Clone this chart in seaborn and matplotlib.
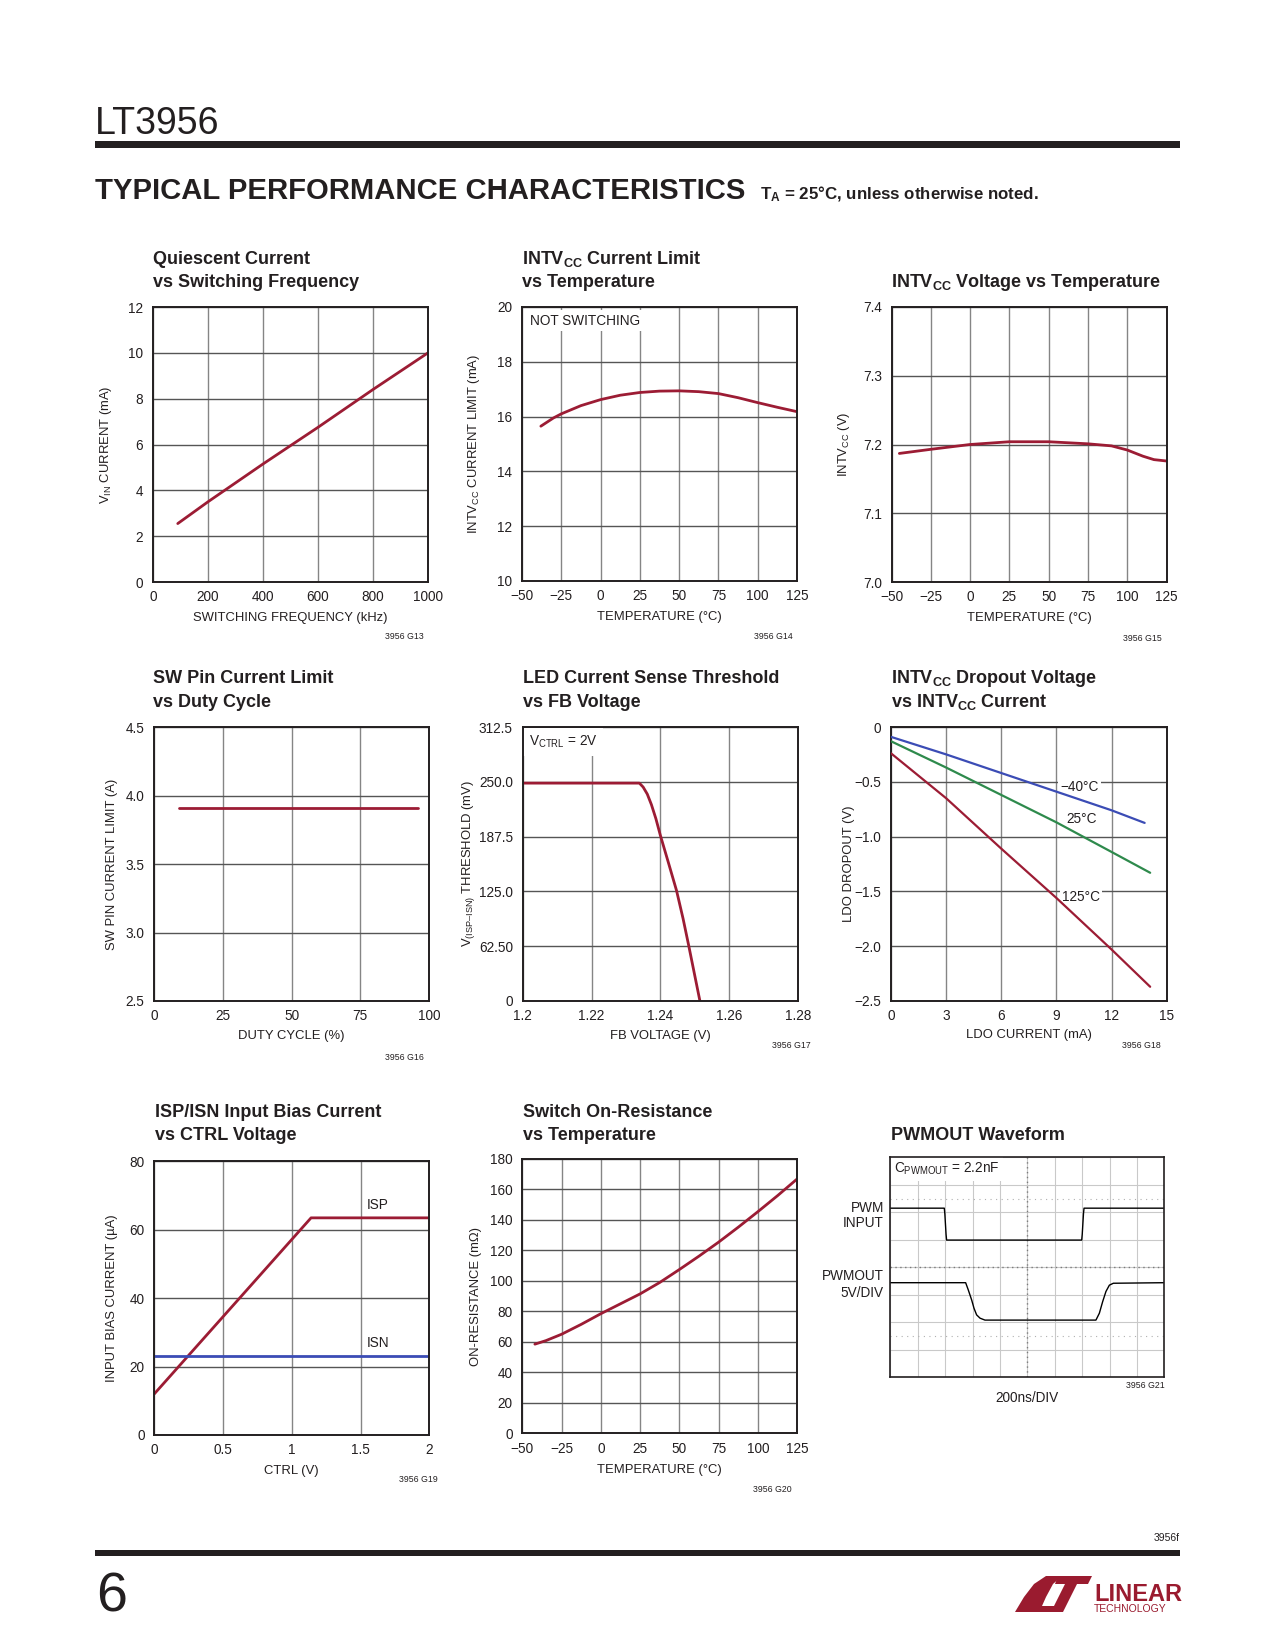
import matplotlib
matplotlib.use('Agg')
import matplotlib.pyplot as plt
import seaborn as sns
from matplotlib.patches import Polygon, Rectangle

# ---------------- data ----------------
qc_freq = [90, 200, 400, 600, 800, 1000]
qc_current = [2.55, 3.5, 5.15, 6.75, 8.4, 10.0]

ilim_temp = [-38, -30, -25, -12.5, 0, 12.5, 25, 37.5, 50, 62.5, 75, 87.5, 100, 112.5, 125]
ilim_current = [15.65, 15.95, 16.1, 16.4, 16.62, 16.78, 16.88, 16.93, 16.94, 16.91, 16.84,
                16.69, 16.51, 16.34, 16.18]

vcc_temp = [-45, -25, 0, 25, 50, 75, 90, 100, 110, 117, 125]
vcc_volt = [7.187, 7.193, 7.200, 7.204, 7.204, 7.201, 7.198, 7.192, 7.183, 7.178, 7.176]

sw_duty = [9, 25, 50, 75, 96]
sw_limit = [3.91, 3.91, 3.91, 3.91, 3.91]

fb_volt = [1.200, 1.210, 1.220, 1.2339, 1.2350, 1.2362, 1.2374, 1.2387, 1.2400, 1.2424,
           1.2447, 1.2466, 1.2482, 1.2499, 1.2515]
fb_thresh = [248.5, 248.5, 248.5, 248.5, 244, 236, 224, 208, 189, 157, 126, 94, 64, 31, 0]

ldo_m40_i = [0, 3, 6, 9, 12, 13.8]
ldo_m40_v = [-0.09, -0.25, -0.42, -0.59, -0.76, -0.875]
ldo_25_i = [0, 3, 6, 9, 12, 14.1]
ldo_25_v = [-0.13, -0.37, -0.62, -0.87, -1.14, -1.33]
ldo_125_i = [0, 3, 6, 9, 12, 14.1]
ldo_125_v = [-0.24, -0.65, -1.11, -1.56, -2.03, -2.37]

isp_ctrl = [0, 1.14, 2.0]
isp_current = [12.0, 63.4, 63.4]
isn_ctrl = [0, 2.0]
isn_current = [23.1, 23.1]

ron_temp = [-42, -35, -25, -12.5, 0, 12.5, 25, 37.5, 50, 62.5, 75, 87.5, 100, 112.5, 125]
ron_mohm = [58.5, 60.8, 65, 71.5, 78.5, 85, 91.5, 99, 107.5, 116.3, 125.5, 135.3, 145.5, 156, 167]

# scope traces: time (ns, 200ns/div), level (divisions)
pwm_in_t = [0, 394, 398, 407, 411, 1397, 1401, 1410, 1414, 2000]
pwm_in_div = [6.15, 6.15, 5.95, 5.2, 4.99, 4.99, 5.2, 5.95, 6.15, 6.15]
pwmout_t = [0, 550, 569, 594, 611, 630, 655, 691, 1501, 1526, 1550, 1574, 1599, 1628, 2000]
pwmout_div = [3.44, 3.44, 3.18, 2.81, 2.51, 2.27, 2.15, 2.08, 2.08, 2.33, 2.75, 3.12, 3.35, 3.42, 3.44]

temp_ticks = [-50, -25, 0, 25, 50, 75, 100, 125]
temp_labels = ['\u221250', '\u221225', '0', '25', '50', '75', '100', '125']

# ---------------- style ----------------
RED = '#9c1c34'
BLUE = '#3b4cb5'
GREEN = '#2e8a4c'
INK = '#231f20'
NARROW = ['Liberation Sans Narrow', 'Liberation Sans', 'DejaVu Sans']
TICK = 9.8
LAB = 9.4
TIT = 13.0

sns.set_theme(style='white')
plt.rcParams['font.family'] = NARROW
plt.rcParams['mathtext.fontset'] = 'custom'
plt.rcParams['mathtext.rm'] = 'Liberation Sans'
plt.rcParams['mathtext.bf'] = 'Liberation Sans:bold'
plt.rcParams['mathtext.it'] = 'Liberation Sans:italic'
plt.rcParams['text.color'] = INK

W, H = 1275, 1650
fig = plt.figure(figsize=(12.75, 16.5), dpi=100)
fig.patch.set_facecolor('white')


def add_axes(x0, y0, x1, y1):
    return fig.add_axes([x0 / W, 1 - y1 / H, (x1 - x0) / W, (y1 - y0) / H])


def ftext(x, y, s, **kw):
    return fig.text(x / W, 1 - y / H, s, **kw)


def setup(ax, xlim, xticks, xtl, ylim, yticks, ytl, xlabel, ylabel, xl_off, yl_off,
          hgrid='#555555', vgrid='#858585'):
    ax.set_xlim(*xlim)
    ax.set_ylim(*ylim)
    ax.set_xticks(xticks, xtl)
    ax.set_yticks(yticks, ytl)
    ax.tick_params(axis='both', length=0, labelsize=TICK, colors=INK)
    ax.tick_params(axis='x', pad=6)
    ax.tick_params(axis='y', pad=7)
    ax.set_xlabel(xlabel, fontsize=LAB, color=INK)
    ax.set_ylabel(ylabel, fontsize=LAB, color=INK)
    ax.xaxis.set_label_coords(0.5, xl_off)
    ax.yaxis.set_label_coords(yl_off, 0.5)
    for s in ax.spines.values():
        s.set_visible(True)
        s.set_linewidth(1.4)
        s.set_color(INK)
    ax.set_axisbelow(True)
    ax.xaxis.grid(True, color=vgrid, lw=1.0)
    ax.yaxis.grid(True, color=hgrid, lw=1.0)


def title(x, lines):
    for s, y in lines:
        ftext(x, y, s, fontsize=TIT, fontweight='bold', va='baseline', ha='left', color=INK)


def gid(x, y, s):
    ftext(x, y, s, fontsize=6.3, ha='right', va='center', color=INK)


LW = 2.0

# ---------------- header / footer ----------------
ftext(95, 133.5, 'LT3956', fontsize=27, va='baseline', ha='left', color=INK)
fig.add_artist(Rectangle((94.7 / W, 1 - 148 / H), (1180 - 94.7) / W, 7 / H,
                         transform=fig.transFigure, color=INK, lw=0))
hdr = ftext(95, 199, 'TYPICAL PERFORMANCE CHARACTERISTICS', fontsize=26,
            fontweight='bold', va='baseline', ha='left', color=INK)
sub = ftext(760, 199, 'T$_{\\mathbf{A}}$ = 25\u00b0C, unless otherwise noted.', fontsize=12.2,
            fontweight='bold', va='baseline', ha='left', color=INK)

ftext(1180, 1541, '3956f', fontsize=7.5, ha='right', va='baseline', color=INK)
fig.add_artist(Rectangle((94.7 / W, 1 - 1556 / H), (1180 - 94.7) / W, 6.4 / H,
                         transform=fig.transFigure, color=INK, lw=0))
ftext(96, 1612, '6', fontsize=40, va='baseline', ha='left', color=INK)


def poly(pts, color):
    fig.add_artist(Polygon([(x / W, 1 - y / H) for x, y in pts], closed=True,
                           transform=fig.transFigure, color=color, lw=0))


LOGO = '#9a1b2f'
poly([(1015, 1612), (1024, 1597), (1034, 1584), (1046, 1576), (1062, 1576),
      (1053, 1584), (1046, 1597), (1042, 1606), (1058, 1606), (1055, 1612)], LOGO)
poly([(1058, 1576), (1092, 1576), (1088, 1584), (1077, 1584), (1063, 1612),
      (1051, 1612), (1065, 1584), (1055, 1584)], LOGO)
ftext(1094, 1601, 'LINEAR', fontsize=17, fontweight='bold', va='baseline', ha='left', color=LOGO)
ftext(1094, 1612, 'TECHNOLOGY', fontsize=7.5, va='baseline', ha='left', color=LOGO)

# ---------------- chart 1 ----------------
ax = add_axes(153, 307, 428, 582)
sns.lineplot(x=qc_freq, y=qc_current, ax=ax, color=RED, lw=LW)
setup(ax, (0, 1000), [0, 200, 400, 600, 800, 1000], ['0', '200', '400', '600', '800', '1000'],
      (0, 12), [0, 2, 4, 6, 8, 10, 12], ['0', '2', '4', '6', '8', '10', '12'],
      'SWITCHING FREQUENCY (kHz)', 'V$_{\\mathrm{IN}}$ CURRENT (mA)', -0.109, -0.143)
title(153, [('Quiescent Current', 264), ('vs Switching Frequency', 286.7)])
gid(424, 637, '3956 G13')

# ---------------- chart 2 ----------------
ax = add_axes(522, 307, 797, 581)
sns.lineplot(x=ilim_temp, y=ilim_current, ax=ax, color=RED, lw=LW)
setup(ax, (-50, 125), temp_ticks, temp_labels,
      (10, 20), [10, 12, 14, 16, 18, 20], ['10', '12', '14', '16', '18', '20'],
      'TEMPERATURE (\u00b0C)', 'INTV$_{\\mathrm{CC}}$ CURRENT LIMIT (mA)', -0.108, -0.145)
ax.text(0.028, 0.975, 'NOT SWITCHING', transform=ax.transAxes, fontsize=TICK, va='top', ha='left',
        bbox=dict(facecolor='white', edgecolor='none', pad=2.5), zorder=2.5)
title(522, [('INTV$_{\\mathbf{CC}}$ Current Limit', 264), ('vs Temperature', 286.7)])
gid(793, 637, '3956 G14')

# ---------------- chart 3 ----------------
ax = add_axes(891.5, 307, 1166.5, 582)
sns.lineplot(x=vcc_temp, y=vcc_volt, ax=ax, color=RED, lw=LW)
setup(ax, (-50, 125), temp_ticks, temp_labels,
      (7.0, 7.4), [7.0, 7.1, 7.2, 7.3, 7.4], ['7.0', '7.1', '7.2', '7.3', '7.4'],
      'TEMPERATURE (\u00b0C)', 'INTV$_{\\mathrm{CC}}$ (V)', -0.109, -0.145)
title(891, [('INTV$_{\\mathbf{CC}}$ Voltage vs Temperature', 287)])
gid(1162, 638, '3956 G15')

# ---------------- chart 4 ----------------
ax = add_axes(154, 727, 429, 1001)
sns.lineplot(x=sw_duty, y=sw_limit, ax=ax, color=RED, lw=LW)
setup(ax, (0, 100), [0, 25, 50, 75, 100], ['0', '25', '50', '75', '100'],
      (2.5, 4.5), [2.5, 3.0, 3.5, 4.0, 4.5], ['2.5', '3.0', '3.5', '4.0', '4.5'],
      'DUTY CYCLE (%)', 'SW PIN CURRENT LIMIT (A)', -0.106, -0.131)
title(153, [('SW Pin Current Limit', 683), ('vs Duty Cycle', 706.7)])
gid(424, 1058, '3956 G16')

# ---------------- chart 5 ----------------
ax = add_axes(522.7, 727, 798, 1001)
sns.lineplot(x=fb_volt, y=fb_thresh, ax=ax, color=RED, lw=LW)
setup(ax, (1.2, 1.28), [1.2, 1.22, 1.24, 1.26, 1.28], ['1.2', '1.22', '1.24', '1.26', '1.28'],
      (0, 312.5), [0, 62.5, 125, 187.5, 250, 312.5], ['0', '62.50', '125.0', '187.5', '250.0', '312.5'],
      'FB VOLTAGE (V)', 'V$_{\\mathrm{(ISP\u2013ISN)}}$ THRESHOLD (mV)', -0.106, -0.167)
ax.text(0.023, 0.975, 'V$_{\\mathrm{CTRL}}$ = 2V', transform=ax.transAxes, fontsize=TICK,
        va='top', ha='left', bbox=dict(facecolor='white', edgecolor='none', pad=4), zorder=2.5)
title(522.7, [('LED Current Sense Threshold', 683), ('vs FB Voltage', 706.7)])
gid(811, 1046, '3956 G17')

# ---------------- chart 6 ----------------
ax = add_axes(891, 727, 1166.7, 1001)
sns.lineplot(x=ldo_m40_i, y=ldo_m40_v, ax=ax, color=BLUE, lw=1.6, zorder=3)
sns.lineplot(x=ldo_25_i, y=ldo_25_v, ax=ax, color=GREEN, lw=1.6, zorder=3)
sns.lineplot(x=ldo_125_i, y=ldo_125_v, ax=ax, color=RED, lw=1.6, zorder=3)
setup(ax, (0, 15), [0, 3, 6, 9, 12, 15], ['0', '3', '6', '9', '12', '15'],
      (-2.5, 0), [-2.5, -2.0, -1.5, -1.0, -0.5, 0],
      ['\u22122.5', '\u22122.0', '\u22121.5', '\u22121.0', '\u22120.5', '0'],
      'LDO CURRENT (mA)', 'LDO DROPOUT (V)', -0.103, -0.131)
lblbox = dict(facecolor='white', edgecolor='none', pad=1.5)
ax.text(9.2, -0.547, '\u221240\u00b0C', fontsize=TICK, ha='left', va='center', bbox=lblbox, zorder=2.5)
ax.text(9.52, -0.838, '25\u00b0C', fontsize=TICK, ha='left', va='center', bbox=lblbox, zorder=2.5)
ax.text(9.29, -1.554, '125\u00b0C', fontsize=TICK, ha='left', va='center', bbox=lblbox, zorder=2.5)
title(891, [('INTV$_{\\mathbf{CC}}$ Dropout Voltage', 683), ('vs INTV$_{\\mathbf{CC}}$ Current', 706.7)])
gid(1161, 1045, '3956 G18')

# ---------------- chart 7 ----------------
ax = add_axes(154.3, 1161, 429.3, 1435)
sns.lineplot(x=isp_ctrl, y=isp_current, ax=ax, color=RED, lw=LW)
sns.lineplot(x=isn_ctrl, y=isn_current, ax=ax, color=BLUE, lw=LW)
setup(ax, (0, 2), [0, 0.5, 1, 1.5, 2], ['0', '0.5', '1', '1.5', '2'],
      (0, 80), [0, 20, 40, 60, 80], ['0', '20', '40', '60', '80'],
      'CTRL (V)', 'INPUT BIAS CURRENT (\u00b5A)', -0.109, -0.131)
ax.text(1.545, 65.0, 'ISP', fontsize=TICK, ha='left', va='bottom')
ax.text(1.545, 24.8, 'ISN', fontsize=TICK, ha='left', va='bottom')
title(155, [('ISP/ISN Input Bias Current', 1116.7), ('vs CTRL Voltage', 1140)])
gid(438, 1480, '3956 G19')

# ---------------- chart 8 ----------------
ax = add_axes(522.3, 1159, 797.3, 1433.3)
sns.lineplot(x=ron_temp, y=ron_mohm, ax=ax, color=RED, lw=LW)
setup(ax, (-50, 125), temp_ticks, temp_labels,
      (0, 180), list(range(0, 181, 20)), [str(v) for v in range(0, 181, 20)],
      'TEMPERATURE (\u00b0C)', 'ON-RESISTANCE (m\u03a9)', -0.112, -0.148)
title(523, [('Switch On-Resistance', 1116.7), ('vs Temperature', 1140)])
gid(792, 1489, '3956 G20')

# ---------------- chart 9 (scope) ----------------
ax = add_axes(890.3, 1157.3, 1164.3, 1377.3)
ax.set_xlim(0, 2000)
ax.set_ylim(0, 8)
ax.set_xticks(list(range(0, 2001, 200)))
ax.set_yticks(list(range(0, 9)))
ax.set_xticklabels([])
ax.set_yticklabels([])
ax.tick_params(length=0)
ax.set_axisbelow(True)
ax.grid(True, color='#c9c9c9', lw=0.8)
for s in ax.spines.values():
    s.set_visible(True)
    s.set_linewidth(1.2)
    s.set_color(INK)
ax.axhline(4, color='#7a7a7a', lw=1.0, ls=(0, (1, 2.5)), zorder=1)
ax.axvline(1000, color='#7a7a7a', lw=1.0, ls=(0, (1, 2.5)), zorder=1)
ax.axhline(6.5, color='#b0b0b0', lw=0.8, ls=(0, (1, 4)), zorder=1)
ax.axhline(1.5, color='#b0b0b0', lw=0.8, ls=(0, (1, 4)), zorder=1)
sns.lineplot(x=pwm_in_t, y=pwm_in_div, ax=ax, color='black', lw=1.0, sort=False, estimator=None)
sns.lineplot(x=pwmout_t, y=pwmout_div, ax=ax, color='black', lw=1.0, sort=False, estimator=None)
ax.set_xlabel('')
ax.set_ylabel('')
ax.text(0.014, 0.985, 'C$_{\\mathrm{PWMOUT}}$ = 2.2nF', transform=ax.transAxes, fontsize=TICK,
        va='top', ha='left', bbox=dict(facecolor='white', edgecolor='none', pad=2.5), zorder=2.5)
ftext(884, 1211.7, 'PWM', fontsize=TICK, ha='right', va='baseline')
ftext(884, 1226.7, 'INPUT', fontsize=TICK, ha='right', va='baseline')
ftext(884, 1280, 'PWMOUT', fontsize=TICK, ha='right', va='baseline')
ftext(884, 1296.7, '5V/DIV', fontsize=TICK, ha='right', va='baseline')
ftext(1027, 1401.7, '200ns/DIV', fontsize=TICK, ha='center', va='baseline')
title(891, [('PWMOUT Waveform', 1140)])
gid(1165, 1385, '3956 G21')

# fit header title width to the reference
fig.canvas.draw()
w = hdr.get_window_extent().width
hdr.set_fontsize(26 * 648 / w)

fig.savefig('out.png', dpi=100, facecolor='white')
